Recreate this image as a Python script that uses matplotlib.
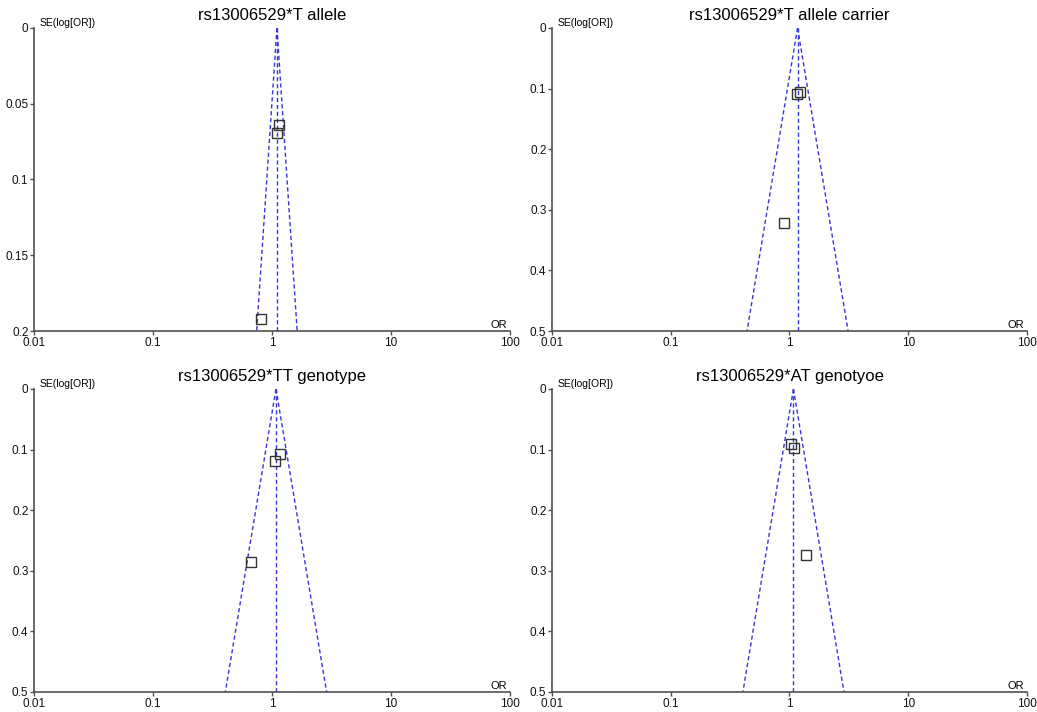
import numpy as np
import matplotlib.pyplot as plt
from matplotlib.ticker import FixedLocator, FixedFormatter

plt.rcParams['font.family'] = ['Liberation Sans', 'DejaVu Sans']

# === Data ===
titles = ["rs13006529*T allele", "rs13006529*T allele carrier",
          "rs13006529*TT genotype", "rs13006529*AT genotyoe"]

pooled_or = [1.10, 1.17, 1.08, 1.08]
se_max = [0.2, 0.5, 0.5, 0.5]
y_ticks = [[0, 0.05, 0.1, 0.15, 0.2],
           [0, 0.1, 0.2, 0.3, 0.4, 0.5],
           [0, 0.1, 0.2, 0.3, 0.4, 0.5],
           [0, 0.1, 0.2, 0.3, 0.4, 0.5]]

study_or = [[1.15, 1.10, 0.81],
            [1.22, 1.16, 0.90],
            [1.17, 1.06, 0.67],
            [1.03, 1.09, 1.38]]
study_se = [[0.064, 0.069, 0.192],
            [0.106, 0.109, 0.322],
            [0.107, 0.119, 0.285],
            [0.091, 0.097, 0.274]]

x_ticks = [0.01, 0.1, 1, 10, 100]
x_labels = ["0.01", "0.1", "1", "10", "100"]

# axes boxes in figure fractions: left, bottom, width, height
boxes = [[0.0328, 0.5351, 0.459, 0.4256],
         [0.5323, 0.5351, 0.458, 0.4256],
         [0.0328, 0.0281, 0.459, 0.4256],
         [0.5323, 0.0281, 0.458, 0.4256]]

fig = plt.figure(figsize=(10.37, 7.12), dpi=100)
line_col = "#3535dc"
axis_col = "#505050"

for i in range(4):
    ax = fig.add_axes(boxes[i])
    por = pooled_or[i]
    smax = se_max[i]

    # funnel: pooled line and 95% limits
    ax.plot([por, por], [0, smax], color=line_col, lw=1, ls=(0, (3, 2)))
    ax.plot([por, por * np.exp(-1.96 * smax)], [0, smax], color=line_col, lw=1, ls=(0, (3, 2)))
    ax.plot([por, por * np.exp(1.96 * smax)], [0, smax], color=line_col, lw=1, ls=(0, (3, 2)))

    ax.plot(study_or[i], study_se[i], ls="none", marker="s", ms=6.5,
            mfc="none", mec="#333333", mew=1)

    ax.set_xscale("log")
    ax.set_xlim(0.01, 100)
    ax.set_ylim(smax, 0)

    ax.xaxis.set_major_locator(FixedLocator(x_ticks))
    ax.xaxis.set_major_formatter(FixedFormatter(x_labels))
    ax.xaxis.set_minor_locator(FixedLocator([]))
    ax.set_yticks(y_ticks[i])
    ax.set_yticklabels(["%g" % v for v in y_ticks[i]])

    for s in ["top", "right"]:
        ax.spines[s].set_visible(False)
    for s in ["left", "bottom"]:
        ax.spines[s].set_color(axis_col)
        ax.spines[s].set_linewidth(1.2)
    ax.tick_params(direction="out", length=3, width=1, color=axis_col,
                   labelsize=8.5, pad=1, labelcolor="#111111")

    ax.text(0.012, 1.0, "SE(log[OR])", transform=ax.transAxes, fontsize=7.5,
            va="bottom", ha="left")
    ax.text(0.995, 0.003, "OR", transform=ax.transAxes, fontsize=8,
            va="bottom", ha="right")
    ax.set_title(titles[i], fontsize=12, pad=6)

fig.savefig("out.png", dpi=100)
